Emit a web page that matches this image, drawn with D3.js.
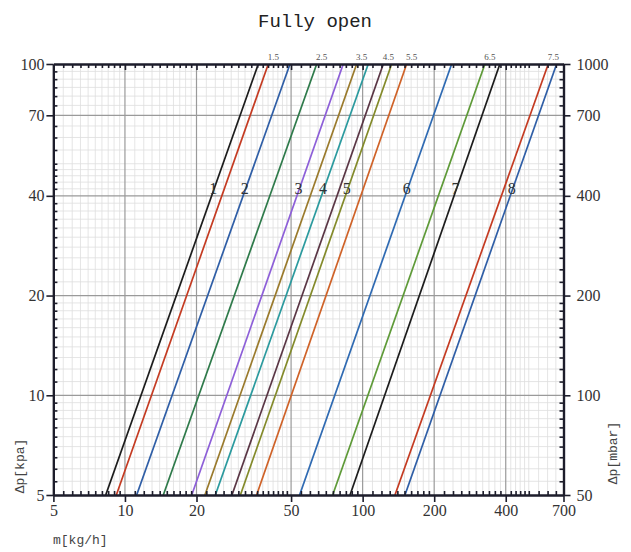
<html>
<head>
<title>Fully open</title>
<script src="https://d3js.org/d3.v7.min.js"></script>
<style>
  body { margin: 0; background: #fff; }
  .tick text { font-family: "Liberation Serif", "DejaVu Serif", serif; font-size: 16px; fill: #333; }
  .lbl { font-family: "Liberation Mono", monospace; fill: #444; }
</style>
</head>
<body>
<svg width="631" height="552"></svg>
<script>
// valve settings, flow (kg/h) read at dp = 5 kPa and dp = 100 kPa
var settings = ["1", "1.5", "2", "2.5", "3", "3.5", "4", "4.5", "5", "5.5", "6", "6.5", "7", "7.5", "8"];
var flowAt5 = [8.3, 9.2, 11.2, 14.5, 19.1, 21.7, 24.0, 28.2, 30.6, 35.8, 54.3, 74.8, 88.5, 136.8, 150.7];
var flowAt100 = [36.4, 40.1, 49.5, 64.1, 82.9, 94.4, 105.6, 122.2, 132.5, 153.2, 236.9, 327, 378, 604, 655];
var colors = ["#1c1c1c", "#c43b22", "#2f5ea6", "#2e7a4a", "#8d5fd8", "#9a7a2c", "#2b9a9e", "#5a3645",
              "#838a2a", "#cf6228", "#2f6ab2", "#5e9a38", "#1c1c1c", "#c43b22", "#2f5ea6"];

var xTicks = [5, 10, 20, 50, 100, 200, 400, 700];
var yTicks = [5, 10, 20, 40, 70, 100];
var yTicksMbar = [50, 100, 200, 400, 700, 1000];
var xGrid = [10, 20, 50, 100, 200, 400];
var yGrid = [10, 20, 40, 70];

var svg = d3.select("svg");
var pLeft = 53.4, pRight = 563.5, pTop = 64, pBottom = 495;

var x = d3.scaleLog().domain([5, 700]).range([pLeft, pRight]);
var y = d3.scaleLog().domain([5, 100]).range([pBottom, pTop]);
var y2 = d3.scaleLog().domain([50, 1000]).range([pBottom, pTop]);

// minor values: step 0.1 on 1-2, 0.2 on 2-5, 0.5 on 5-10 of each decade
function minorValues(lo, hi) {
  var out = [];
  [1, 10, 100].forEach(function(dec) {
    [[1, 2, 0.1], [2, 5, 0.2], [5, 10, 0.5]].forEach(function(r) {
      for (var v = r[0]; v < r[1] - 1e-9; v += r[2]) {
        var val = +(v * dec).toFixed(4);
        if (val > lo && val < hi) out.push(val);
      }
    });
  });
  return out;
}
var xMinor = minorValues(5, 700).filter(function(d) { return xGrid.indexOf(d) < 0; });
var yMinor = minorValues(5, 100).filter(function(d) { return yGrid.indexOf(d) < 0; });

svg.append("text")
  .attr("x", 315).attr("y", 27)
  .attr("text-anchor", "middle")
  .style("font-family", "Liberation Mono, monospace")
  .style("font-size", "19px")
  .style("fill", "#222")
  .text("Fully open");

// grid
var grid = svg.append("g");
grid.selectAll(".vmin").data(xMinor).enter().append("line")
  .attr("x1", d => x(d)).attr("x2", d => x(d)).attr("y1", pTop).attr("y2", pBottom)
  .attr("stroke", "#dedede").attr("stroke-width", 0.8);
grid.selectAll(".hmin").data(yMinor).enter().append("line")
  .attr("y1", d => y(d)).attr("y2", d => y(d)).attr("x1", pLeft).attr("x2", pRight)
  .attr("stroke", "#dedede").attr("stroke-width", 0.8);
grid.selectAll(".vmaj").data(xGrid).enter().append("line")
  .attr("x1", d => x(d)).attr("x2", d => x(d)).attr("y1", pTop).attr("y2", pBottom)
  .attr("stroke", "#9a9a9a").attr("stroke-width", 1.2);
grid.selectAll(".hmaj").data(yGrid).enter().append("line")
  .attr("y1", d => y(d)).attr("y2", d => y(d)).attr("x1", pLeft).attr("x2", pRight)
  .attr("stroke", "#9a9a9a").attr("stroke-width", 1.2);

// curves
svg.append("clipPath").attr("id", "clip").append("rect")
  .attr("x", pLeft).attr("y", pTop).attr("width", pRight - pLeft).attr("height", pBottom - pTop);

var line = d3.line().x(d => x(d[0])).y(d => y(d[1]));
svg.append("g").attr("clip-path", "url(#clip)")
  .selectAll("path").data(settings).enter().append("path")
  .attr("d", (s, i) => line([[flowAt5[i], 5], [flowAt100[i], 100]]))
  .attr("fill", "none")
  .attr("stroke", (s, i) => colors[i])
  .attr("stroke-width", 1.7);

// axes
function styleAxis(g) {
  g.select(".domain").attr("stroke", "#1d1d2b").attr("stroke-width", 2.2);
  g.selectAll(".tick line").attr("stroke", "#1d1d2b").attr("stroke-width", 1.6);
}

svg.append("g").attr("transform", "translate(0," + pBottom + ")")
  .call(d3.axisBottom(x).tickValues(xMinor).tickSize(-4).tickSizeOuter(0).tickFormat(""))
  .call(styleAxis);
svg.append("g").attr("transform", "translate(0," + pBottom + ")")
  .call(d3.axisBottom(x).tickValues(xTicks).tickSize(7).tickSizeOuter(0).tickPadding(3).tickFormat(d3.format("d")))
  .call(styleAxis);

svg.append("g").attr("transform", "translate(0," + pTop + ")")
  .call(d3.axisTop(x).tickValues(xMinor).tickSize(-4).tickSizeOuter(0).tickFormat(""))
  .call(styleAxis);
svg.append("g").attr("transform", "translate(0," + pTop + ")")
  .call(d3.axisTop(x).tickValues(xGrid).tickSize(-6).tickSizeOuter(0).tickFormat(""))
  .call(styleAxis);

svg.append("g").attr("transform", "translate(" + pLeft + ",0)")
  .call(d3.axisLeft(y).tickValues(yMinor).tickSize(-4).tickSizeOuter(0).tickFormat(""))
  .call(styleAxis);
svg.append("g").attr("transform", "translate(" + pLeft + ",0)")
  .call(d3.axisLeft(y).tickValues(yTicks).tickSize(7).tickSizeOuter(0).tickPadding(2).tickFormat(d3.format("d")))
  .call(styleAxis);

svg.append("g").attr("transform", "translate(" + pRight + ",0)")
  .call(d3.axisRight(y2).tickValues(yMinor.map(d => d * 10)).tickSize(-4).tickSizeOuter(0).tickFormat(""))
  .call(styleAxis);
svg.append("g").attr("transform", "translate(" + pRight + ",0)")
  .call(d3.axisRight(y2).tickValues(yTicksMbar).tickSize(7).tickSizeOuter(0).tickPadding(6).tickFormat(d3.format("d")))
  .call(styleAxis);

// setting labels: whole numbers on the line at 42 kPa, halves above the top end
var labelDp = 42;
var t = Math.log(labelDp / 5) / Math.log(100 / 5);
var whole = settings.map((s, i) => ({ s: s, i: i })).filter(d => d.s.indexOf(".") < 0);
var halves = settings.map((s, i) => ({ s: s, i: i })).filter(d => d.s.indexOf(".") >= 0);

svg.selectAll(".whole").data(whole).enter().append("text")
  .attr("x", d => x(flowAt5[d.i] * Math.pow(flowAt100[d.i] / flowAt5[d.i], t)) - 1)
  .attr("y", y(labelDp) + 5)
  .attr("text-anchor", "middle")
  .style("font-family", "Liberation Serif, serif")
  .style("font-size", "16px")
  .style("fill", "#333")
  .text(d => d.s);

svg.selectAll(".half").data(halves).enter().append("text")
  .attr("x", d => x(flowAt100[d.i]) + 5)
  .attr("y", pTop - 4)
  .attr("text-anchor", "middle")
  .style("font-family", "Liberation Serif, serif")
  .style("font-size", "9px")
  .style("fill", "#555")
  .text(d => d.s);

// axis titles
svg.append("text").attr("class", "lbl")
  .attr("x", 53).attr("y", 544)
  .style("font-size", "13px")
  .text("m[kg/h]");

svg.append("text").attr("class", "lbl")
  .attr("transform", "translate(24,466) rotate(-90)")
  .attr("text-anchor", "middle")
  .style("font-size", "13px")
  .text("\u0394p[kpa]");

svg.append("text").attr("class", "lbl")
  .attr("transform", "translate(617,453) rotate(-90)")
  .attr("text-anchor", "middle")
  .style("font-size", "13px")
  .text("\u0394p[mbar]");
</script>
</body>
</html>
